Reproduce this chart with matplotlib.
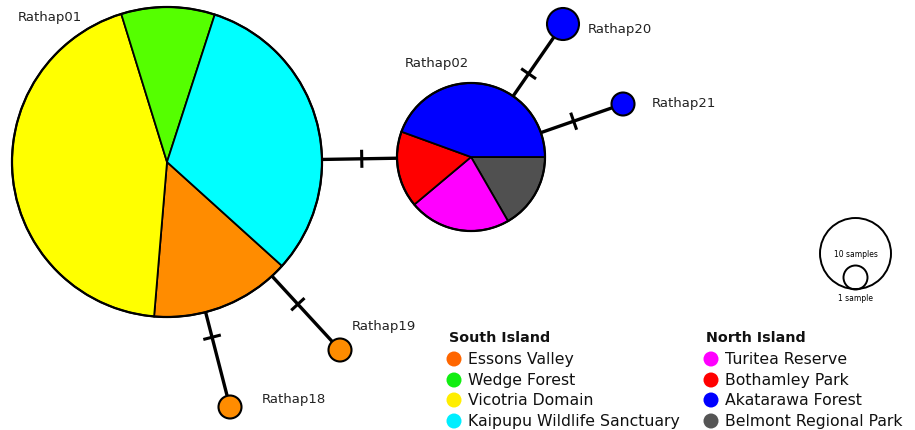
import numpy as np
import matplotlib
matplotlib.use("Agg")
import matplotlib.pyplot as plt
from matplotlib.patches import Wedge, Circle

# Populations and their colours
pops = ["Essons Valley", "Wedge Forest", "Vicotria Domain", "Kaipupu Wildlife Sanctuary",
        "Turitea Reserve", "Bothamley Park", "Akatarawa Forest", "Belmont Regional Park"]
pie_colors = ["#FF8C00", "#55FF00", "#FFFF00", "#00FFFF",
              "#FF00FF", "#FF0000", "#0000FF", "#505050"]
legend_colors = ["#FF6600", "#11EE11", "#FFEE00", "#00EEFF",
                 "#FF00FF", "#FF0000", "#0000FF", "#555555"]

# Haplotypes and sample counts per population (order as in pops)
haplotypes = ["Rathap01", "Rathap02", "Rathap18", "Rathap19", "Rathap20", "Rathap21"]
counts_rathap01 = [6, 4, 18, 13, 0, 0, 0, 0]
counts_rathap02 = [0, 0, 0, 0, 4, 3, 8, 3]
counts_rathap18 = [1, 0, 0, 0, 0, 0, 0, 0]
counts_rathap19 = [1, 0, 0, 0, 0, 0, 0, 0]
counts_rathap20 = [0, 0, 0, 0, 0, 0, 2, 0]
counts_rathap21 = [0, 0, 0, 0, 0, 0, 1, 0]
counts = [counts_rathap01, counts_rathap02, counts_rathap18,
          counts_rathap19, counts_rathap20, counts_rathap21]

# Network edges (each carries one mutation step)
edges = [("Rathap01", "Rathap02"), ("Rathap01", "Rathap18"), ("Rathap01", "Rathap19"),
         ("Rathap02", "Rathap20"), ("Rathap02", "Rathap21")]
mutations = [1, 1, 1, 1, 1]

# Node layout in pixel space (y downwards): centre and radius
layout = {
    "Rathap01": dict(xy=(167, 163), r=155),
    "Rathap02": dict(xy=(471, 158), r=74),
    "Rathap18": dict(xy=(230, 408), r=11.5),
    "Rathap19": dict(xy=(340, 351), r=11.5),
    "Rathap20": dict(xy=(563, 25), r=16),
    "Rathap21": dict(xy=(623, 105), r=11.5),
}
# Pie start angle and slice order (angles run clockwise on screen)
start_angles = {"Rathap01": 42.1, "Rathap02": 0.0}
pie_order = {"Rathap01": [0, 2, 1, 3], "Rathap02": [7, 4, 5, 6]}
tick_frac = {("Rathap01", "Rathap02"): 0.53, ("Rathap01", "Rathap18"): 0.3,
             ("Rathap01", "Rathap19"): 0.43, ("Rathap02", "Rathap20"): 0.38,
             ("Rathap02", "Rathap21"): 0.46}
label_pos = {"Rathap01": (18, 18), "Rathap02": (405, 63), "Rathap18": (262, 400),
             "Rathap19": (352, 327), "Rathap20": (588, 29), "Rathap21": (652, 104)}

W, H = 915, 431
fig = plt.figure(figsize=(W / 100, H / 100), dpi=100)
ax = fig.add_axes([0, 0, 1, 1])
ax.set_xlim(0, W)
ax.set_ylim(H, 0)
ax.set_aspect("equal")
ax.axis("off")

# Edges with mutation ticks
for (a, b), m in zip(edges, mutations):
    (x0, y0), (x1, y1) = layout[a]["xy"], layout[b]["xy"]
    ax.plot([x0, x1], [y0, y1], color="black", lw=2.4, zorder=1, solid_capstyle="butt")
    d = np.hypot(x1 - x0, y1 - y0)
    ux, uy = (x1 - x0) / d, (y1 - y0) / d
    ra, rb = layout[a]["r"], layout[b]["r"]
    for k in range(m):
        s = ra + tick_frac[(a, b)] * (d - ra - rb)
        cx, cy = x0 + ux * s, y0 + uy * s
        px, py = -uy * 7.5, ux * 7.5
        ax.plot([cx - px, cx + px], [cy - py, cy + py], color="black", lw=2.2, zorder=1)

# Haplotype pies
for name, cnt in zip(haplotypes, counts):
    (cx, cy), r = layout[name]["xy"], layout[name]["r"]
    nz = [i for i, c in enumerate(cnt) if c > 0]
    if len(nz) == 1:
        ax.add_patch(Circle((cx, cy), r, facecolor=pie_colors[nz[0]], edgecolor="black",
                            lw=1.5, zorder=3))
    else:
        total = sum(cnt)
        theta = start_angles[name]
        for i in pie_order[name]:
            span = 360.0 * cnt[i] / total
            ax.add_patch(Wedge((cx, cy), r, theta, theta + span, facecolor=pie_colors[i],
                               edgecolor="black", lw=1.3, zorder=3))
            theta += span
        ax.add_patch(Circle((cx, cy), r, facecolor="none", edgecolor="black", lw=1.6, zorder=4))

for name in haplotypes:
    x, y = label_pos[name]
    ax.text(x, y, name, fontsize=9.5, color="#222222", ha="left", va="center")

# Size scale
ax.add_patch(Circle((855.5, 254.5), 35.5, facecolor="none", edgecolor="black", lw=1.4))
ax.add_patch(Circle((855.5, 278.5), 12, facecolor="none", edgecolor="black", lw=1.4))
ax.text(855.5, 255, "10 samples", fontsize=5.5, ha="center", va="center")
ax.text(855.5, 299, "1 sample", fontsize=5.5, ha="center", va="center")

# Legend
groups = [("South Island", 449, pops[:4], legend_colors[:4]),
          ("North Island", 706, pops[4:], legend_colors[4:])]
rows = [360, 381, 401, 422]
for title, x, names, cols in groups:
    ax.text(x, 338, title, fontsize=10.3, fontweight="bold", ha="left", va="center",
            color="#111111")
    for yy, n, c in zip(rows, names, cols):
        ax.add_patch(Circle((x + 5, yy), 7.5, facecolor=c, edgecolor="none"))
        ax.text(x + 19, yy, n, fontsize=11.3, ha="left", va="center", color="#111111")

fig.savefig("out.png", dpi=100)
